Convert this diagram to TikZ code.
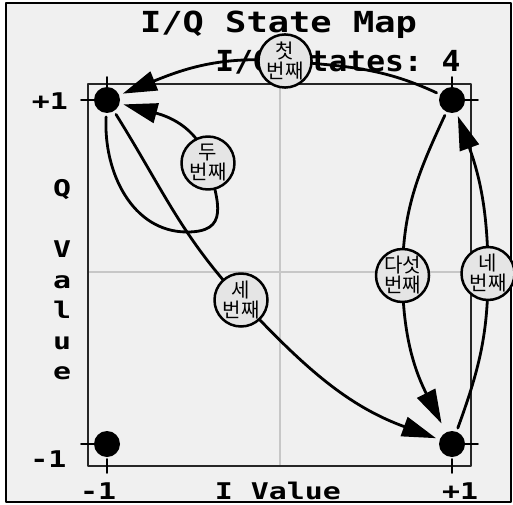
\documentclass[tikz,border=0pt]{standalone}
\usepackage{fontspec}
\setmonofont{DejaVu Sans Mono}
\newfontfamily\kofont{Noto Sans CJK KR}
\usetikzlibrary{arrows.meta}

\tikzset{
  iqdot/.style={circle, fill=black, minimum size=26pt, inner sep=0pt, outer sep=4pt},
  stlbl/.style={circle, draw=black, line width=2.5pt, fill=black!10, minimum size=53pt,
    inner sep=0pt, align=center, font=\kofont\fontsize{20}{20}\selectfont},
  trans/.style={line width=2.8pt, -{Triangle[length=34pt,width=20pt]}},
  axtxt/.style={font=\ttfamily\bfseries\fontsize{23}{23}\selectfont, xscale=1.3, anchor=base, inner sep=0pt},
  ttltxt/.style={font=\ttfamily\bfseries\fontsize{29}{29}\selectfont, anchor=base, inner sep=0pt},
}

\begin{document}
\begin{tikzpicture}[x=1pt, y=1pt, line cap=round, line join=round]
  \useasboundingbox (0,0) rectangle (513,504);
  \draw[line width=2pt, fill=black!6] (6,2) rectangle (511,501);
  % grid and plot box
  \draw[black!22, line width=2pt] (280,38) -- (280,420);
  \draw[black!22, line width=2pt] (88,232) -- (471,232);
  \draw[black!85, line width=2.8pt] (88,38) rectangle (471,420);
  \foreach \x in {107,452} {
    \draw[line width=1.8pt] (\x,31) -- (\x,45);
    \draw[line width=1.8pt] (\x,413) -- (\x,427);
  }
  \foreach \y in {60,404} {
    \draw[line width=1.8pt] (81,\y) -- (95,\y);
    \draw[line width=1.8pt] (465,\y) -- (478,\y);
  }
  % titles and axis text
  \node[ttltxt, xscale=1.22] (title) at (278.5,471) {I/Q State Map};
  \node[ttltxt, xscale=1.08] (count) at (338,432) {I/Q States: 4};
  \node[axtxt] (qhi) at (50,394) {+1};
  \node[axtxt] (qlo) at (48.5,37) {-1};
  \node[axtxt] (ilo) at (98,5) {-1};
  \node[axtxt] (ihi) at (460,5) {+1};
  \node[axtxt] (ilbl) at (278,5) {I Value};
  \foreach \ch/\k in {Q/0,V/2,a/3,l/4,u/5,e/6}
    \node[axtxt] (q\k) at (62,{307.5-30.5*\k}) {\ch};
  % states
  \node[iqdot] (p1) at (107,404) {};
  \node[iqdot] (p2) at (452,404) {};
  \node[iqdot] (p3) at (107,60) {};
  \node[iqdot] (p4) at (452,60) {};
  \coordinate (c1) at (285,443);
  \coordinate (c2) at (208,341);
  \coordinate (b2) at (187,272);
  \coordinate (c3) at (241,204);
  \coordinate (c4) at (488,230.5);
  \coordinate (c5) at (402.5,228.5);
  % transitions
  \draw[trans] (p2) to[out=155,in=-5] (c1) to[out=175,in=22] (p1);
  \draw[trans] (p1) to[out=-93,in=180] (b2) to[out=0,in=-75,looseness=1.5] (c2) to[out=105,in=-15] (p1);
  \draw[trans] (p1) to[out=-58,in=133] (c3) to[out=-47,in=160] (p4);
  \draw[trans] (p4) to[out=70,in=-90] (c4) to[out=90,in=-70] (p2);
  \draw[trans, shorten >=6pt] (p2) to[out=-115,in=90] (c5) to[out=-90,in=117] (p4);
  % labels
  \node[stlbl] (l1) at (c1) {첫\\번째};
  \node[stlbl] (l2) at (c2) {두\\번째};
  \node[stlbl] (l3) at (c3) {세\\번째};
  \node[stlbl] (l4) at (c4) {네\\번째};
  \node[stlbl] (l5) at (c5) {다섯\\번째};
\end{tikzpicture}
\end{document}
